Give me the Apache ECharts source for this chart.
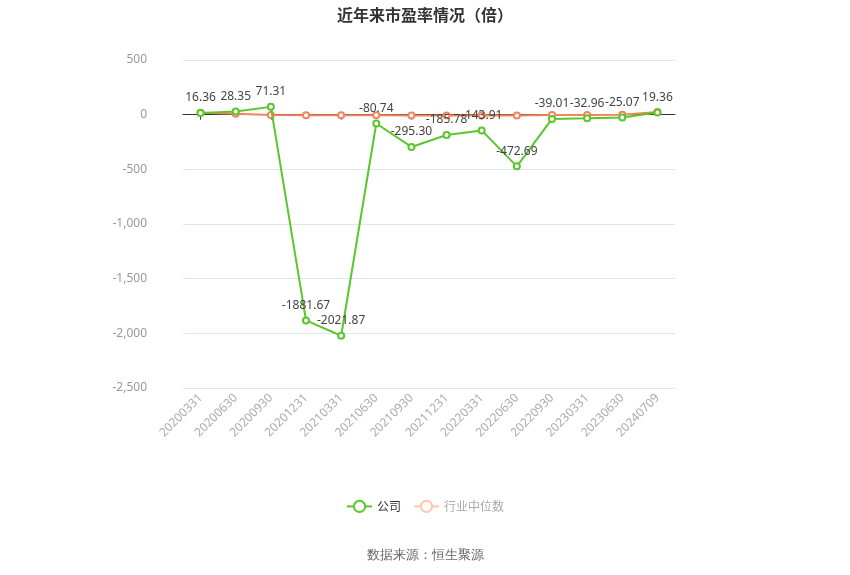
<!DOCTYPE html>
<html>
<head>
<meta charset="utf-8">
<script src="https://cdn.jsdelivr.net/npm/echarts@6/dist/echarts.min.js"></script>
<style>
html,body{margin:0;padding:0;background:#fff;}
#main{width:850px;height:575px;}
</style>
</head>
<body>
<div id="main"></div>
<script>
var categories = ['20200331','20200630','20200930','20201231','20210331','20210630','20210930','20211231','20220331','20220630','20220930','20230331','20230630','20240709'];
var companyPE = [16.36, 28.35, 71.31, -1881.67, -2021.87, -80.74, -295.30, -185.78, -143.91, -472.69, -39.01, -32.96, -25.07, 19.36];
var industryPE = [17.5, 8.2, -3.5, -6.1, -5.8, -5.4, -6.8, -8.2, -6.2, -7.5, -3.3, -2.1, -1.5, 25.0];
var yTicks = { min: -2500, max: 500, interval: 500 };

var chart = echarts.init(document.getElementById('main'));
var green = '#5BC62C';
var orange = '#F5845A';
chart.setOption({
  animation: false,
  title: {
    text: '近年来市盈率情况（倍）',
    left: 'center', top: 2,
    textStyle: { fontSize: 16, fontWeight: 'bold', color: '#333', fontFamily: 'Noto Sans CJK SC' }
  },
  legend: {
    bottom: 57, left: 'center',
    itemWidth: 25, itemHeight: 14, itemGap: 12,
    textStyle: { fontSize: 12, color: '#333', fontFamily: 'Noto Sans CJK SC' },
    data: [
      { name: '公司' },
      { name: '行业中位数', itemStyle: { color: '#FFC6AE', borderColor: '#FFC6AE' }, lineStyle: { color: '#FFC6AE' }, textStyle: { color: '#AAAAAA' } }
    ]
  },
  graphic: [{
    type: 'text', left: 'center', top: 549,
    style: { text: '数据来源：恒生聚源', fontSize: 13, fill: '#666', font: '13px "Noto Sans CJK SC"' }
  }],
  grid: { left: 183, right: 175, top: 60, bottom: 187 },
  xAxis: [{
    type: 'category', data: categories, boundaryGap: true,
    position: 'bottom',
    axisLine: { show: false, onZero: false },
    axisTick: { show: false },
    axisLabel: { rotate: 45, color: '#aaa', fontSize: 12, margin: 8, fontFamily: 'Noto Sans' },
    splitLine: { show: false }
  }, {
    type: 'category', data: categories, boundaryGap: true,
    position: 'bottom',
    axisLine: { show: true, onZero: true, lineStyle: { color: '#333', width: 1 } },
    axisTick: { show: true, alignWithLabel: true, length: 5, lineStyle: { color: '#333' } },
    axisLabel: { show: false },
    splitLine: { show: false }
  }],
  yAxis: {
    type: 'value', min: yTicks.min, max: yTicks.max, interval: yTicks.interval,
    axisLine: { show: false }, axisTick: { show: false },
    axisLabel: { color: '#999', fontSize: 12, margin: 36, fontFamily: 'Noto Sans' },
    splitLine: { lineStyle: { color: '#E0E6F1' } }
  },
  series: [{
    name: '公司', type: 'line', data: companyPE,
    symbol: 'emptyCircle', symbolSize: 6,
    itemStyle: { color: green },
    lineStyle: { color: green, width: 2 },
    label: { show: true, position: 'top', color: '#444', fontSize: 12, fontFamily: 'Noto Sans',
      formatter: function (p) { return p.value.toFixed(2); } },
    z: 3
  }, {
    name: '行业中位数', type: 'line', data: industryPE,
    symbol: 'emptyCircle', symbolSize: 6,
    itemStyle: { color: orange },
    lineStyle: { color: orange, width: 2 },
    label: { show: false },
    z: 2
  }]
});
</script>
</body>
</html>
